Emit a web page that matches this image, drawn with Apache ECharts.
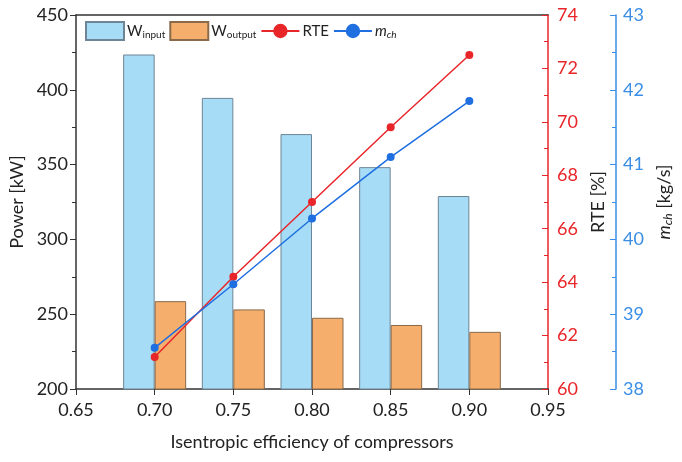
<!DOCTYPE html>
<html>
<head>
<meta charset="utf-8">
<script src="https://cdn.jsdelivr.net/npm/echarts@6/dist/echarts.min.js"></script>
<style>
  html, body { margin: 0; padding: 0; background: #fff; }
  #chart { width: 682px; height: 462px; }
</style>
</head>
<body>
<div id="chart"></div>
<script>
const efficiency = [0.70, 0.75, 0.80, 0.85, 0.90];
const wInput = [423.6, 394.6, 370.4, 348.3, 329.0];
const wOutput = [258.7, 253.2, 247.6, 242.8, 238.2];
const rte = [61.2, 64.2, 67.0, 69.8, 72.5];
const mch = [38.55, 39.4, 40.28, 41.1, 41.85];

const FONT = "Lato";
const DARK = "#333";
const TXT = "#222";
const RED = "#e8262a";
const BLUE = "#1f6fe0";
const BLUE_AXIS = "#3a8ee6";

const pairs = (ys) => efficiency.map((x, i) => [x, ys[i]]);

const chart = echarts.init(document.getElementById("chart"));
chart.setOption({
  animation: false,
  textStyle: { fontFamily: FONT },
  grid: { left: 76, right: 134, top: 15, bottom: 73, outerBoundsMode: "none" },
  legend: {
    left: 80, top: 16,
    itemWidth: 38, itemHeight: 18, itemGap: 4,
    textStyle: {
      fontFamily: FONT, fontSize: 15, color: TXT, padding: [0, 0, 0, -2],
      rich: {
        b: { fontSize: 15, fontFamily: FONT, color: TXT },
        s: { fontSize: 10, fontFamily: FONT, color: TXT, padding: [8, 0, 0, 0] },
        i: { fontSize: 15, fontFamily: FONT, fontStyle: "italic", color: TXT },
        si: { fontSize: 10, fontFamily: FONT, fontStyle: "italic", color: TXT, padding: [8, 0, 0, 0] },
      },
    },
    formatter: (n) => {
      if (n === "Winput") return "{b|W}{s|input}";
      if (n === "Woutput") return "{b|W}{s|output}";
      if (n === "mch") return "{i|m}{si|ch}";
      return "{b|" + n + "}";
    },
    data: [
      { name: "Winput", icon: "rect" },
      { name: "Woutput", icon: "rect" },
      "RTE", "mch",
    ],
  },
  xAxis: [
    {
      type: "value", min: 0.65, max: 0.95, interval: 0.05,
      name: "Isentropic efficiency of compressors",
      nameLocation: "middle", nameGap: 44,
      nameTextStyle: { fontFamily: FONT, fontSize: 18, color: TXT },
      axisLine: { show: true, lineStyle: { color: DARK, width: 1.5 } },
      axisTick: { show: true, length: 6, lineStyle: { color: DARK } },
      axisLabel: { fontSize: 18, color: TXT, margin: 12, formatter: (v) => v.toFixed(2) },
      splitLine: { show: false },
    },
    {
      type: "value", position: "top", min: 0.65, max: 0.95, interval: 0.05,
      axisLine: { show: true, lineStyle: { color: DARK, width: 1.5 } },
      axisTick: { show: false }, axisLabel: { show: false }, splitLine: { show: false },
    },
  ],
  yAxis: [
    {
      type: "value", min: 200, max: 450, interval: 50,
      name: "Power [kW]", nameLocation: "middle", nameGap: 43,
      nameTextStyle: { fontFamily: FONT, fontSize: 18, color: TXT },
      axisLine: { show: true, lineStyle: { color: DARK, width: 1.5 } },
      axisTick: { show: true, length: 6, lineStyle: { color: DARK } },
      minorTick: { show: true, splitNumber: 2, length: 4, lineStyle: { color: DARK } },
      axisLabel: { fontSize: 18, color: TXT, margin: 8 },
      splitLine: { show: false },
    },
    {
      type: "value", position: "right", min: 60, max: 74, interval: 2,
      name: "RTE [%]", nameLocation: "middle", nameGap: 34,
      nameTextStyle: { fontFamily: FONT, fontSize: 18, color: TXT },
      axisLine: { show: true, lineStyle: { color: RED, width: 1.5 } },
      axisTick: { show: true, inside: true, length: 6, lineStyle: { color: RED } },
      minorTick: { show: true, splitNumber: 2, length: 4, lineStyle: { color: RED } },
      axisLabel: { fontSize: 18, color: RED, margin: 9 },
      splitLine: { show: false },
    },
    {
      type: "value", position: "right", offset: 68, min: 38, max: 43, interval: 1,
      name: "{i|m}{s|ch}{b| [kg/s]}", nameLocation: "middle", nameGap: 37,
      nameTextStyle: {
        fontFamily: FONT, fontSize: 18, color: TXT,
        rich: {
          i: { fontFamily: FONT, fontSize: 18, fontStyle: "italic", color: TXT },
          s: { fontFamily: FONT, fontSize: 12, fontStyle: "italic", color: TXT, padding: [9, 0, 0, 0] },
          b: { fontFamily: FONT, fontSize: 18, color: TXT },
        },
      },
      axisLine: { show: true, lineStyle: { color: BLUE_AXIS, width: 1.5 } },
      axisTick: { show: true, inside: true, length: 6, lineStyle: { color: BLUE_AXIS } },
      minorTick: { show: true, splitNumber: 2, length: 4, lineStyle: { color: BLUE_AXIS } },
      axisLabel: { fontSize: 18, color: BLUE_AXIS, margin: 7 },
      splitLine: { show: false },
    },
  ],
  series: [
    {
      name: "Winput", type: "bar", xAxisIndex: 0, yAxisIndex: 0,
      barWidth: 31.5, barGap: "0%",
      itemStyle: { color: "#a6dcf5", borderColor: "#6f8595", borderWidth: 1 },
      data: pairs(wInput),
    },
    {
      name: "Woutput", type: "bar", xAxisIndex: 0, yAxisIndex: 0,
      barWidth: 31.5, barGap: "0%",
      itemStyle: { color: "#f5ae6b", borderColor: "#8a6a4a", borderWidth: 1 },
      data: pairs(wOutput),
    },
    {
      name: "RTE", type: "line", xAxisIndex: 0, yAxisIndex: 1,
      symbol: "circle", symbolSize: 8,
      lineStyle: { color: RED, width: 1.5 }, itemStyle: { color: RED },
      data: pairs(rte), z: 5,
    },
    {
      name: "mch", type: "line", xAxisIndex: 0, yAxisIndex: 2,
      symbol: "circle", symbolSize: 8,
      lineStyle: { color: BLUE, width: 1.5 }, itemStyle: { color: BLUE },
      data: pairs(mch), z: 5,
    },
  ],
});
</script>
</body>
</html>
